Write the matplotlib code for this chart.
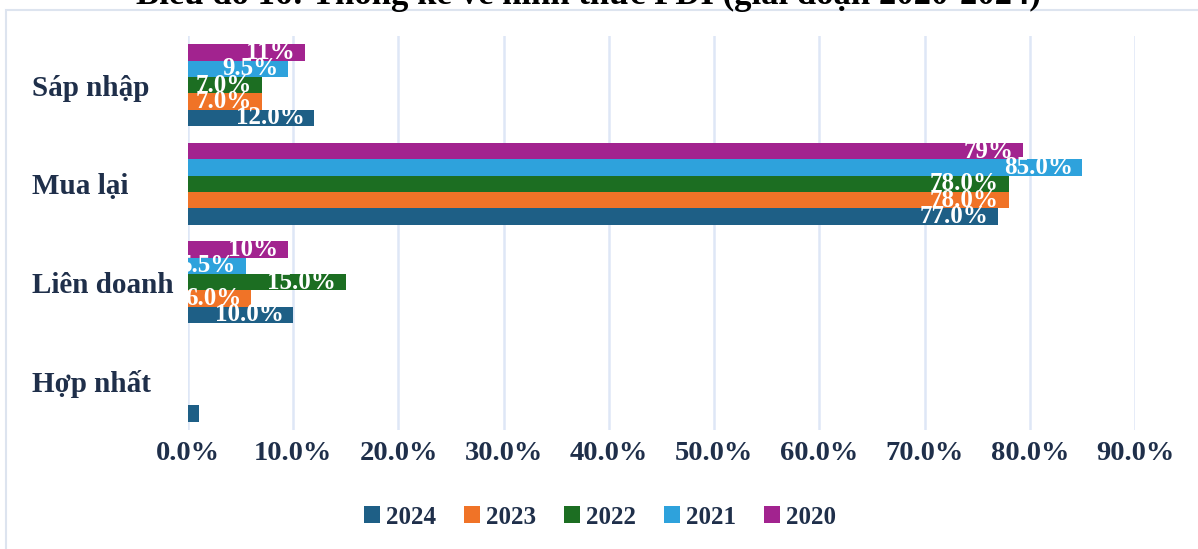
import matplotlib

matplotlib.use("Agg")
import matplotlib.pyplot as plt
import numpy as np
from matplotlib.patches import Rectangle

categories = ["Hợp nhất", "Liên doanh", "Mua lại", "Sáp nhập"]
years = ["2024", "2023", "2022", "2021", "2020"]
values = {
    "2024": [1.0, 10.0, 77.0, 12.0],
    "2023": [0.0, 6.0, 78.0, 7.0],
    "2022": [0.0, 15.0, 78.0, 7.0],
    "2021": [0.0, 5.5, 85.0, 9.5],
    "2020": [0.0, 9.5, 79.4, 11.1],
}
labels = {
    "2024": ["", "10.0%", "77.0%", "12.0%"],
    "2023": ["", "6.0%", "78.0%", "7.0%"],
    "2022": ["", "15.0%", "78.0%", "7.0%"],
    "2021": ["", "5.5%", "85.0%", "9.5%"],
    "2020": ["", "10%", "79%", "11%"],
}
colors = {
    "2024": "#1E5F86",
    "2023": "#F07327",
    "2022": "#1C6E22",
    "2021": "#2EA2DC",
    "2020": "#A2238F",
}
xticks = [0, 10, 20, 30, 40, 50, 60, 70, 80, 90]
title = "Biểu đồ 16: Thống kê về hình thức FDI (giai đoạn 2020-2024)"

plt.rcParams["font.family"] = ["Liberation Serif", "DejaVu Serif"]
plt.rcParams["font.weight"] = "bold"

W, H = 1198, 549
fig = plt.figure(figsize=(W / 100, H / 100), dpi=100)

# outer chart frame
fig.patches.append(Rectangle((6 / W, -0.05), 1.2, 1 - 10 / H + 0.05,
                             transform=fig.transFigure, fill=False,
                             edgecolor="#DDE4EF", linewidth=1.5))

# title sits mostly above the top edge, as in the source image
fig.text(588 / W, 1 - 4 / H, title, ha="center", va="baseline",
         fontsize=25, fontweight="bold", color="black")

ax = fig.add_axes([188 / W, 1 - 430 / H, (1135 - 188) / W, (430 - 36) / H])

bar_h = 0.166
y = np.arange(len(categories))
navy = "#1F2F4A"
for i, yr in enumerate(years):
    offs = (i - 2) * bar_h
    bars = ax.barh(y + offs, values[yr], height=bar_h, color=colors[yr],
                   label=yr, zorder=3)
    for bar, lab in zip(bars, labels[yr]):
        if not lab:
            continue
        t = ax.annotate(lab, (bar.get_width(), bar.get_y() + bar.get_height() / 2),
                        xytext=(-7, 0), textcoords="offset points",
                        ha="right", va="center", color="white",
                        fontsize=18, fontweight="bold", zorder=4)
        t.set_clip_on(True)

ax.set_xlim(0, 90)
ax.set_ylim(-0.5, 3.5)
ax.set_xticks(xticks)
ax.set_xticklabels([f"{v:.1f}%" for v in xticks], fontsize=20.5,
                   fontweight="bold", color=navy)
ax.set_yticks(y)
ax.set_yticklabels(categories, fontsize=21, fontweight="bold", color=navy)
for lbl in ax.get_yticklabels():
    lbl.set_ha("left")
ax.tick_params(axis="y", length=0, pad=112)
ax.tick_params(axis="x", length=0, pad=8)
ax.grid(axis="x", color="#DEE7F6", linewidth=1.8, zorder=0)
ax.set_axisbelow(True)
for s in ax.spines.values():
    s.set_visible(False)

handles, labs = ax.get_legend_handles_labels()
fig.legend(handles, labs, loc="center", bbox_to_anchor=(600 / W, 1 - 517 / H),
           ncol=5, frameon=False, handlelength=0.65, handleheight=0.65,
           handletextpad=0.25, columnspacing=1.1,
           prop={"weight": "bold", "size": 18})
for txt in fig.legends[0].get_texts():
    txt.set_color(navy)

fig.savefig("out.png", dpi=100)
